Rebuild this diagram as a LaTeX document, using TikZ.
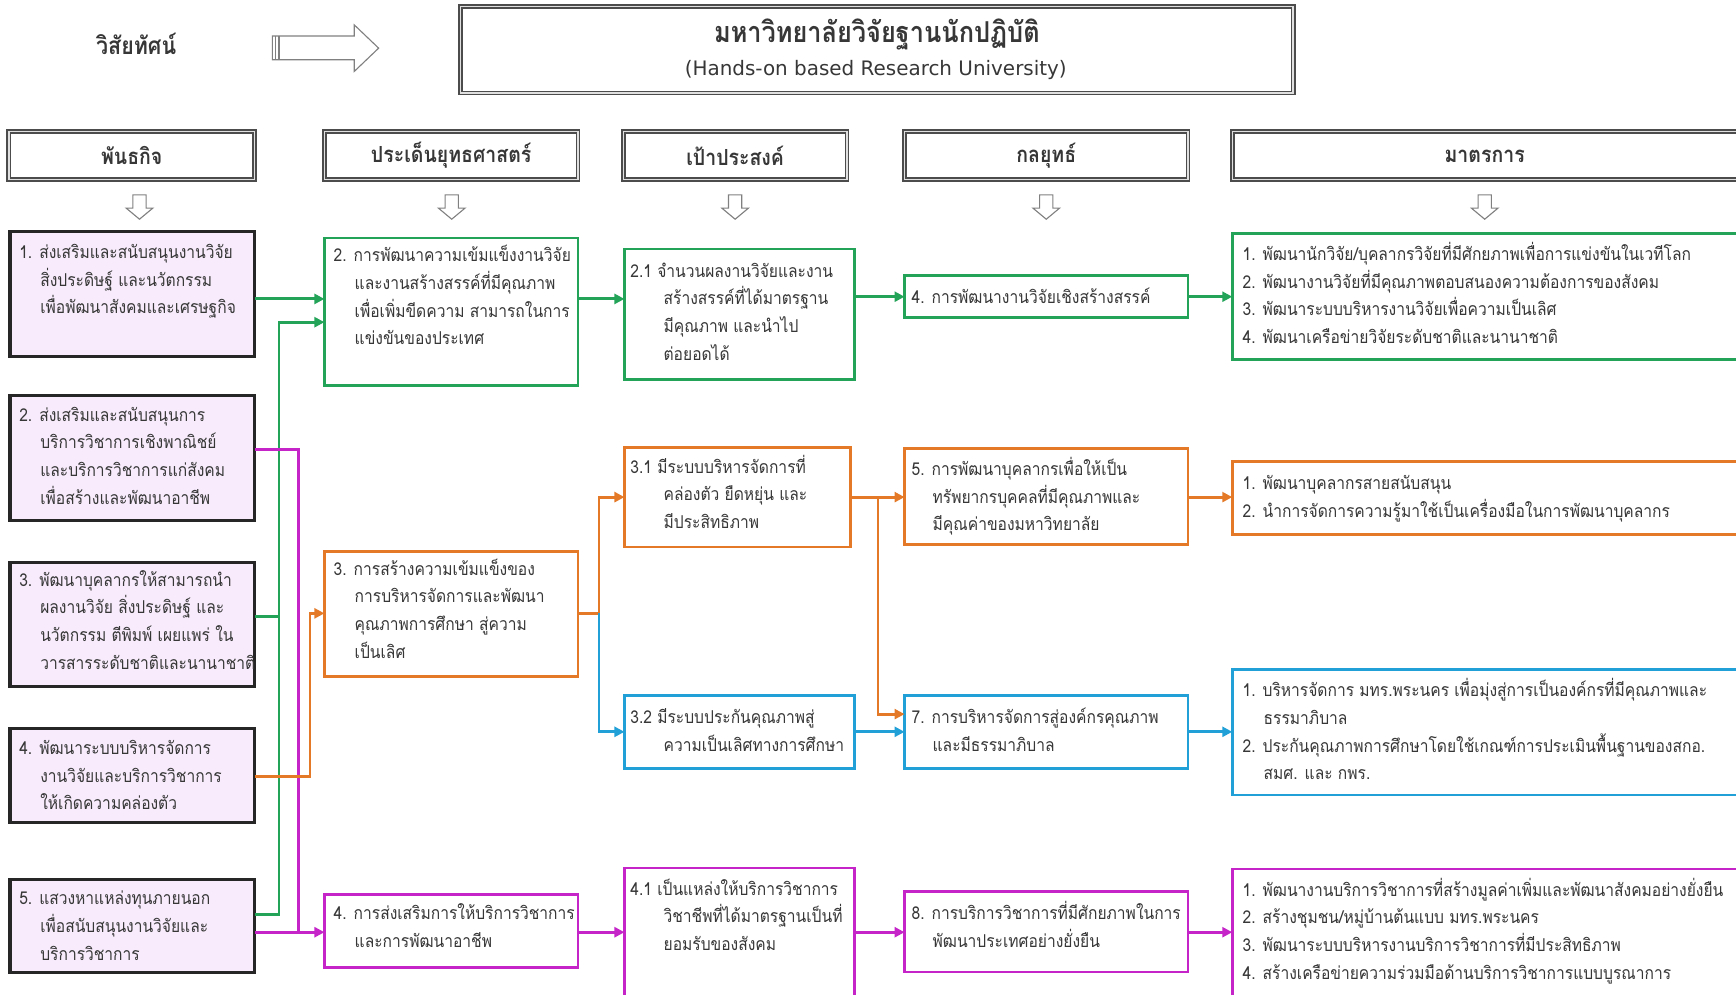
\documentclass[tikz,border=0pt]{standalone}
\usepackage{fontspec}
\setmainfont{Loma}[Script=Thai, FakeStretch=0.88]
\newfontfamily\latinfont{DejaVu Sans}
\usetikzlibrary{fit,arrows.meta}
\definecolor{cgreen}{RGB}{34,163,88}
\definecolor{corange}{RGB}{228,122,40}
\definecolor{cblue}{RGB}{32,160,215}
\definecolor{cpurple}{RGB}{196,36,200}
\definecolor{lav}{RGB}{248,236,252}
\definecolor{ink}{RGB}{55,55,55}
\newcommand\indA{\hspace*{9.5pt}}
\newcommand\indB{\hspace*{15pt}}
\newcommand\tx[4]{\node[txt] (#1) at (#2,#3-12.5) {\strut #4};}
\tikzset{
  box/.style={rectangle, inner sep=0pt, outer sep=0pt, line width=1.2pt},
  mbox/.style={box, draw=black!85, fill=lav, line width=1.4pt},
  gbox/.style={box, draw=cgreen},
  obox/.style={box, draw=corange},
  bbox/.style={box, draw=cblue},
  pbox/.style={box, draw=cpurple},
  hdr/.style={rectangle, inner sep=0pt, outer sep=0pt, draw=black!70, double=black!12, double distance=0.6pt, line width=0.8pt},
  hdrtxt/.style={inner sep=0pt, font=\bfseries\fontsize{10}{12}\selectfont, text=ink},
  txt/.style={inner sep=0pt, anchor=north west, align=left, font=\fontsize{8}{12.5}\selectfont, text=ink},
  link/.style={line width=1.3pt},
  conn/.style={line width=1.3pt, -{Triangle[length=4.5pt,width=4.5pt]}},
  hollow/.style={draw=black!50, line width=0.5pt, fill=white},
}
\begin{document}
\begin{tikzpicture}[x=0.5pt,y=-0.5pt]
\useasboundingbox (0,0) rectangle (1568,898);
\clip (0,0) rectangle (1568,898);
\fill[white] (0,0) rectangle (1568,898);

% vision
\node[inner sep=0pt, font=\bfseries\fontsize{11}{13}\selectfont, text=ink] (vis) at (123,40) {วิสัยทัศน์};
\draw[hollow] (246,32.5) -- (320,32.5) -- (320,22.5) -- (342,43.5) -- (320,64.5) -- (320,54) -- (246,54) -- cycle;
\draw[black!50, line width=0.5pt] (249,32.5) -- (249,54) (252,32.5) -- (252,54);
\node[hdr, fit={(416,6) (1168,84)}] (title) {};
\node[inner sep=0pt, font=\bfseries\fontsize{13}{15}\selectfont, text=ink] (t1) at (792,31) {มหาวิทยาลัยวิจัยฐานนักปฏิบัติ};
\node[inner sep=0pt, font=\latinfont\fontsize{9}{12}\selectfont, text=ink] (t2) at (791,63) {(Hands-on based Research University)};

% headers
\node[hdr, fit={(8,119) (230,162)}] (h1) {};
\node[hdr, fit={(293,119) (522,162)}] (h2) {};
\node[hdr, fit={(563,119) (765,162)}] (h3) {};
\node[hdr, fit={(817,119) (1073,162)}] (h4) {};
\node[hdr, fit={(1113,119) (1571,162)}] (h5) {};
\node[hdrtxt] (h1t) at (h1) {พันธกิจ};
\node[hdrtxt] (h2t) at (h2) {ประเด็นยุทธศาสตร์};
\node[hdrtxt] (h3t) at (h3) {เป้าประสงค์};
\node[hdrtxt] (h4t) at (h4) {กลยุทธ์};
\node[hdrtxt] (h5t) at (1341,141) {มาตรการ};

% hollow down arrows
\foreach \cx in {126,408,664,945,1341}{
  \draw[hollow] (\cx-6,176) -- (\cx+6,176) -- (\cx+6,188) -- (\cx+12,188) -- (\cx,198) -- (\cx-12,188) -- (\cx-6,188) -- cycle;
}

% mission boxes
\node[mbox, fit={(9,209) (230,322)}] (m1) {};
\node[mbox, fit={(9,357) (230,470)}] (m2) {};
\node[mbox, fit={(9,508) (230,620)}] (m3) {};
\node[mbox, fit={(9,658) (230,743)}] (m4) {};
\node[mbox, fit={(9,794) (230,878)}] (m5) {};
% issues
\node[gbox, fit={(293,215) (522,348)}] (i2) {};
\node[obox, fit={(293,498) (522,611)}] (i3) {};
\node[pbox, fit={(293,808) (522,874)}] (i4) {};
% goals
\node[gbox, fit={(564,225) (772,343)}] (g21) {};
\node[obox, fit={(564,404) (768,494)}] (g31) {};
\node[bbox, fit={(564,628) (772,694)}] (g32) {};
\node[pbox, fit={(564,784) (772,910)}] (g41) {};
% strategies
\node[gbox, fit={(817,249) (1073,287)}] (s4) {};
\node[obox, fit={(817,405) (1073,492)}] (s5) {};
\node[bbox, fit={(817,628) (1073,694)}] (s7) {};
\node[pbox, fit={(817,805) (1073,878)}] (s8) {};
% measures
\node[gbox, fit={(1113,211) (1580,325)}] (mg) {};
\node[obox, fit={(1113,417) (1580,483)}] (mo) {};
\node[bbox, fit={(1113,605) (1580,718)}] (mb) {};
\node[pbox, fit={(1113,785) (1580,910)}] (mp) {};

% texts
\tx{m1t}{17}{228}{1. ส่งเสริมและสนับสนุนงานวิจัย\\ \indA สิ่งประดิษฐ์ และนวัตกรรม\\ \indA เพื่อพัฒนาสังคมและเศรษฐกิจ}
\tx{m2t}{17}{375}{2. ส่งเสริมและสนับสนุนการ\\ \indA บริการวิชาการเชิงพาณิชย์\\ \indA และบริการวิชาการแก่สังคม\\ \indA เพื่อสร้างและพัฒนาอาชีพ}
\tx{m3t}{17}{524}{3. พัฒนาบุคลากรให้สามารถนำ\\ \indA ผลงานวิจัย สิ่งประดิษฐ์ และ\\ \indA นวัตกรรม ตีพิมพ์ เผยแพร่ ใน\\ \indA วารสารระดับชาติและนานาชาติ}
\tx{m4t}{17}{676}{4. พัฒนาระบบบริหารจัดการ\\ \indA งานวิจัยและบริการวิชาการ\\ \indA ให้เกิดความคล่องตัว}
\tx{m5t}{17}{812}{5. แสวงหาแหล่งทุนภายนอก\\ \indA เพื่อสนับสนุนงานวิจัยและ\\ \indA บริการวิชาการ}

\tx{i2t}{301}{231}{2. การพัฒนาความเข้มแข็งงานวิจัย\\ \indA และงานสร้างสรรค์ที่มีคุณภาพ\\ \indA เพื่อเพิ่มขีดความ สามารถในการ\\ \indA แข่งขันของประเทศ}
\tx{i3t}{301}{514}{3. การสร้างความเข้มแข็งของ\\ \indA การบริหารจัดการและพัฒนา\\ \indA คุณภาพการศึกษา สู่ความ\\ \indA เป็นเลิศ}
\tx{i4t}{301}{825}{4. การส่งเสริมการให้บริการวิชาการ\\ \indA และการพัฒนาอาชีพ}

\tx{g21t}{569}{245}{2.1 จำนวนผลงานวิจัยและงาน\\ \indB สร้างสรรค์ที่ได้มาตรฐาน\\ \indB มีคุณภาพ และนำไป\\ \indB ต่อยอดได้}
\tx{g31t}{569}{422}{3.1 มีระบบบริหารจัดการที่\\ \indB คล่องตัว ยืดหยุ่น และ\\ \indB มีประสิทธิภาพ}
\tx{g32t}{569}{648}{3.2 มีระบบประกันคุณภาพสู่\\ \indB ความเป็นเลิศทางการศึกษา}
\tx{g41t}{569}{803}{4.1 เป็นแหล่งให้บริการวิชาการ\\ \indB วิชาชีพที่ได้มาตรฐานเป็นที่\\ \indB ยอมรับของสังคม}

\tx{s4t}{823}{269}{4. การพัฒนางานวิจัยเชิงสร้างสรรค์}
\tx{s5t}{823}{424}{5. การพัฒนาบุคลากรเพื่อให้เป็น\\ \indA ทรัพยากรบุคคลที่มีคุณภาพและ\\ \indA มีคุณค่าของมหาวิทยาลัย}
\tx{s7t}{823}{648}{7. การบริหารจัดการสู่องค์กรคุณภาพ\\ \indA และมีธรรมาภิบาล}
\tx{s8t}{823}{825}{8. การบริการวิชาการที่มีศักยภาพในการ\\ \indA พัฒนาประเทศอย่างยั่งยืน}

\tx{mgt}{1122}{230}{1. พัฒนานักวิจัย/บุคลากรวิจัยที่มีศักยภาพเพื่อการแข่งขันในเวทีโลก\\2. พัฒนางานวิจัยที่มีคุณภาพตอบสนองความต้องการของสังคม\\3. พัฒนาระบบบริหารงานวิจัยเพื่อความเป็นเลิศ\\4. พัฒนาเครือข่ายวิจัยระดับชาติและนานาชาติ}
\tx{mot}{1122}{437}{1. พัฒนาบุคลากรสายสนับสนุน\\2. นำการจัดการความรู้มาใช้เป็นเครื่องมือในการพัฒนาบุคลากร}
\tx{mbt}{1122}{624}{1. บริหารจัดการ มทร.พระนคร เพื่อมุ่งสู่การเป็นองค์กรที่มีคุณภาพและ\\ \indA ธรรมาภิบาล\\2. ประกันคุณภาพการศึกษาโดยใช้เกณฑ์การประเมินพื้นฐานของสกอ.\\ \indA สมศ. และ กพร.}
\tx{mpt}{1122}{804}{1. พัฒนางานบริการวิชาการที่สร้างมูลค่าเพิ่มและพัฒนาสังคมอย่างยั่งยืน\\2. สร้างชุมชน/หมู่บ้านต้นแบบ มทร.พระนคร\\3. พัฒนาระบบบริหารงานบริการวิชาการที่มีประสิทธิภาพ\\4. สร้างเครือข่ายความร่วมมือด้านบริการวิชาการแบบบูรณาการ}

% level coordinates
\coordinate (r268) at (0,268);
\coordinate (r270) at (0,270);
\coordinate (r557) at (0,557);
\coordinate (r645) at (0,645);
\coordinate (r661) at (0,661);
\coordinate (r701) at (0,701);
\coordinate (r826) at (0,826);
\coordinate (r842) at (0,842);
\coordinate (r449) at (0,449);
\coordinate (gv) at (252,291);
\coordinate (pv) at (270,406);
\coordinate (ov) at (280,554);
\coordinate (jv) at (541,554);
\coordinate (ov2) at (793,449);

% left connectors
\draw[conn, cgreen] (m1.east |- r270) -- (i2.west |- r270);
\draw[conn, cgreen] (m5.east |- r826) -| (gv) -- (i2.west |- gv);
\draw[link, cgreen] (m3.east |- r557) -- (gv |- r557);
\draw[link, cpurple] (m2.east |- pv) -- (pv) -- (pv |- r842);
\draw[conn, cpurple] (m5.east |- r842) -- (i4.west |- r842);
\draw[conn, corange] (m4.east |- r701) -| (ov) -- (i3.west |- ov);

% middle connectors
\draw[conn, cgreen] (i2.east |- r270) -- (g21.west |- r270);
\draw[conn, cgreen] (g21.east |- r268) -- (s4.west |- r268);
\draw[conn, cgreen] (s4.east |- r268) -- (mg.west |- r268);
\draw[link, corange] (i3.east |- jv) -- (jv);
\draw[conn, cblue] (jv) |- (g32.west |- r661);
\draw[conn, corange] (jv) |- (g31.west |- r449);
\draw[conn, corange] (g31.east |- r449) -- (s5.west |- r449);
\draw[conn, corange] (ov2) |- (s7.west |- r645);
\draw[conn, corange] (s5.east |- r449) -- (mo.west |- r449);
\draw[conn, cblue] (g32.east |- r661) -- (s7.west |- r661);
\draw[conn, cblue] (s7.east |- r661) -- (mb.west |- r661);
\draw[conn, cpurple] (i4.east |- r842) -- (g41.west |- r842);
\draw[conn, cpurple] (g41.east |- r842) -- (s8.west |- r842);
\draw[conn, cpurple] (s8.east |- r842) -- (mp.west |- r842);
\end{tikzpicture}
\end{document}
